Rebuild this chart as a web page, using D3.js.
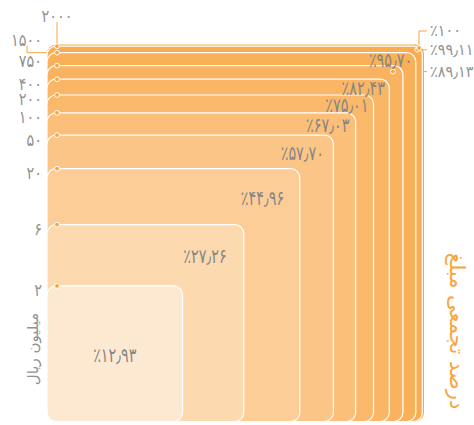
<!DOCTYPE html>
<html>
<head>
<meta charset="utf-8">
<script src="https://cdn.jsdelivr.net/npm/d3@7"></script>
<style>
  html, body { margin: 0; padding: 0; background: #fff; }
  svg { display: block; }
  .num { font-family: "DejaVu Sans", sans-serif; direction: ltr; unicode-bidi: bidi-override; }
  .fa { font-family: "DejaVu Sans", sans-serif; }
</style>
</head>
<body>
<svg id="chart" width="474" height="425"></svg>
<script>
// ---- data ----
const thresholds = ['۲', '۶', '۲۰', '۵۰', '۱۰۰', '۲۰۰', '۴۰۰', '۷۵۰', '۱۵۰۰', '۲۰۰۰', ''];
const cumulativePercent = [12.93, 27.26, 44.96, 57.70, 67.03, 75.01, 82.43, 89.13, 95.70, 99.11, 100];
const outsideLabels = [89.13, 99.11, 100];
const leftTitle = 'میلیون ریال';
const rightTitle = 'درصد تجمعی مبلغ';

// ---- helpers ----
const faDigits = '۰۱۲۳۴۵۶۷۸۹';
function toFa(v) {
  const s = Number.isInteger(v) ? String(v) : v.toFixed(2);
  return s.replace(/[0-9]/g, d => faDigits[+d]).replace('.', '٫');
}
const pct = v => '٪' + toFa(v);

// ---- layout ----
const left = 47, bottom = 421.5, side = 377, r = 9;
const size = d3.scaleSqrt().domain([0, 100]).range([0, side]);
const color = d3.scaleLinear()
  .domain([0, 1, 2, 3, 5, 10])
  .range(['#fde9d2', '#fdd9b0', '#fccd97', '#fbc587', '#fab86b', '#f8aa4c']);
const orange = '#f8a63f';
const grey = '#929292';

const svg = d3.select('#chart');
const data = cumulativePercent.map((p, i) => ({
  p, i, label: thresholds[i],
  s: size(p),
  top: bottom - size(p),
  right: left + size(p),
  prevTop: i > 0 ? bottom - size(cumulativePercent[i - 1]) : bottom,
  prevRight: i > 0 ? left + size(cumulativePercent[i - 1]) : left
}));

function numText(g, x, y, anchor, txt, sx) {
  g.append('text')
    .attr('transform', `translate(${x},${y}) scale(${sx},1)`)
    .attr('text-anchor', anchor)
    .attr('dominant-baseline', 'central')
    .text(txt);
}

// callout lines (beneath squares)
const lines = svg.append('g').attr('fill', 'none').attr('stroke', orange).attr('stroke-width', 1);
const d2000 = data[9], d1500 = data[8];
lines.append('path').attr('d', `M${left + 10},${d2000.top - 24}V${d2000.top}`);
lines.append('path').attr('d', `M${left - 20},${d1500.top - 7}V${d1500.top}H${left + 10}`);

const rightX = 427, rightTextX = 430;
const outside = data.filter(d => outsideLabels.includes(d.p)).map(d => {
  const big = d.p >= 99;
  return Object.assign({}, d, {
    dx: big ? d.right - 5 : d.right - 10,
    dy: big ? d.top + 3.5 : d.top + 6,
  });
});
outside.forEach(d => {
  d.ly = d.p === 100 ? d.dy - 17 : d.dy;
  lines.append('path').attr('d', d.p === 100
    ? `M${rightX},${d.ly}H${d.dx}V${d.dy}`
    : `M${rightX},${d.ly}H${d.dx}`);
});

// squares, largest first
svg.append('g').selectAll('rect')
  .data(data.slice().reverse())
  .join('rect')
  .attr('x', left)
  .attr('y', d => d.top)
  .attr('width', d => d.s)
  .attr('height', d => d.s)
  .attr('rx', r).attr('ry', r)
  .attr('fill', d => color(d.i))
  .attr('stroke', d => d.p === 100 ? 'none' : '#fff')
  .attr('stroke-width', 1.2);

// left dots
svg.append('g').selectAll('circle')
  .data(data.filter(d => d.label !== ''))
  .join('circle')
  .attr('cx', left + 10)
  .attr('cy', d => d.top)
  .attr('r', 2.4)
  .attr('fill', orange)
  .attr('stroke', '#fff')
  .attr('stroke-width', 1);

// right dots
svg.append('g').selectAll('circle')
  .data(outside)
  .join('circle')
  .attr('cx', d => d.dx)
  .attr('cy', d => d.dy)
  .attr('r', 2.4)
  .attr('fill', orange)
  .attr('stroke', '#fff')
  .attr('stroke-width', 1);

// left axis labels
const lab = svg.append('g').attr('class', 'num').attr('fill', grey).attr('font-size', 17);
data.filter(d => d.label !== '').forEach(d => {
  let x = 42, y = d.top + 4.5, anchor = 'end';
  if (d.label === '۲۰۰۰') { x = left + 10; y = d.top - 30; anchor = 'middle'; }
  else if (d.label === '۱۵۰۰') { y = d.top - 12.5; }
  else if (d.label === '۷۵۰') { y = d.top - 4.5; }
  numText(lab, x, y, anchor, d.label, 0.85);
});

// inside percentage labels
const inl = svg.append('g').attr('class', 'num').attr('fill', '#858585').attr('font-size', 20);
data.filter(d => !outsideLabels.includes(d.p)).forEach(d => {
  const y = (d.top + d.prevTop) / 2 + 1;
  if (d.i === 0) {
    numText(inl, left + d.s / 2, y, 'middle', pct(d.p), 0.72);
  } else {
    const th = d.right - d.prevRight;
    numText(inl, d.right - Math.max(th * 0.28, 1), y, 'end', pct(d.p), 0.72);
  }
});

// outside percentage labels
const outl = svg.append('g').attr('class', 'num').attr('fill', grey).attr('font-size', 16);
outside.forEach(d => numText(outl, rightTextX, d.ly, 'start', pct(d.p), 0.9));

// titles
svg.append('text').attr('class', 'fa')
  .attr('transform', `translate(33,349) rotate(-90)`)
  .attr('text-anchor', 'middle').attr('dominant-baseline', 'central')
  .attr('fill', grey).attr('font-size', 15)
  .text(leftTitle);
svg.append('text').attr('class', 'fa')
  .attr('transform', `translate(457,331) rotate(90)`)
  .attr('text-anchor', 'middle').attr('dominant-baseline', 'central')
  .attr('fill', orange).attr('font-size', 21)
  .text(rightTitle);
</script>
</body>
</html>
